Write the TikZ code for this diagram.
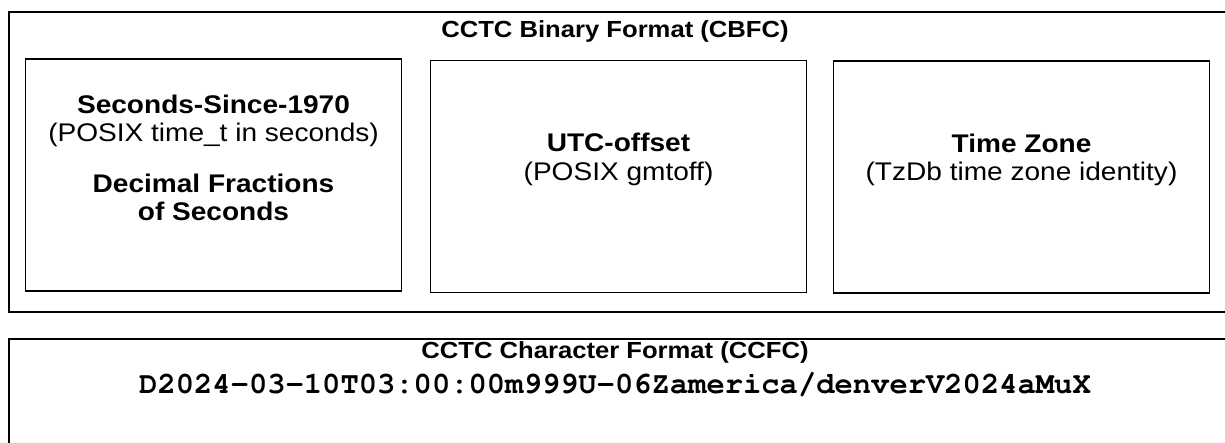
\documentclass[tikz,border=0pt]{standalone}
\usepackage[T1,TU]{fontenc}
\usepackage{fontspec}
\setmainfont[FakeStretch=1.1]{Liberation Sans}
\newcommand{\courierbold}{\fontencoding{T1}\fontfamily{pcr}\fontseries{b}\selectfont}
\usetikzlibrary{positioning}

\begin{document}
\begin{tikzpicture}[x=1pt, y=-1pt]
\tikzset{
  frame/.style={draw, line width=1.6pt, anchor=north west, inner sep=0pt},
  part/.style={draw, line width=1.6pt, minimum width=376pt, minimum height=232pt, inner sep=0pt},
  heading/.style={font=\fontsize{23.3}{28}\selectfont\bfseries},
  parttext/.style={align=center, font=\fontsize{25.5}{28.5}\selectfont}
}
\clip (0,0) rectangle (1225,442);
% binary format
\node[frame, minimum width=1240pt, minimum height=300pt] (cbfc) at (8,11) {};
\node[heading] (cbfctitle) at (615,31) {CCTC Binary Format (CBFC)};
\node[part] (secs) at (213.5,175) {};
\node[part] (offset) at (618.5,176.5) {};
\node[part] (zone) at (1021.5,177) {};
\node[parttext] (secstext) at ([yshift=17pt]secs.center) {\textbf{Seconds-Since-1970}\\(POSIX time\_t in seconds)\\[22pt]\textbf{Decimal Fractions}\\\textbf{of Seconds}};
\node[parttext] (offsettext) at ([yshift=17pt]offset.center) {\textbf{UTC-offset}\\(POSIX gmtoff)};
\node[parttext] (zonetext) at ([yshift=17pt]zone.center) {\textbf{Time Zone}\\(TzDb time zone identity)};
% character format
\node[frame, minimum width=1240pt, minimum height=130pt] (ccfc) at (8,338) {};
\node[heading] (ccfctitle) at (615,352) {CCTC Character Format (CCFC)};
\node[font=\fontsize{30.5}{34}\courierbold, below=3pt of ccfctitle] (stamp) {D2024-03-10T03:00:00m999U-06Zamerica/denverV2024aMuX};
\end{tikzpicture}
\end{document}
